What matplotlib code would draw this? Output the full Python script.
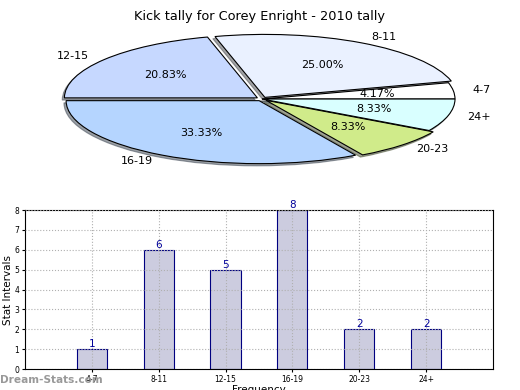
import matplotlib
matplotlib.use("Agg")
import matplotlib.pyplot as plt

title = "Kick tally for Corey Enright - 2010 tally"
categories = ["4-7", "8-11", "12-15", "16-19", "20-23", "24+"]
counts = [1, 6, 5, 8, 2, 2]
pie_colors = ["#ffffff", "#eaf1ff", "#c6d8ff", "#b5d5ff", "#d0eb8a", "#d9ffff"]
explode = [0, 0.03, 0.03, 0.03, 0.03, 0]
yticks = [0, 1, 2, 3, 4, 5, 6, 7, 8]

fig = plt.figure(figsize=(5.2, 3.9), dpi=100)

# Pie (squashed ellipse)
axp = fig.add_axes([0.1327, 0.5846, 0.7423, 0.323])
axp.pie(counts, labels=categories, colors=pie_colors, explode=explode,
        autopct="%1.2f%%", shadow={"ox": -0.008, "oy": -0.025}, startangle=0,
        counterclock=True,
        wedgeprops=dict(edgecolor="black", linewidth=0.8),
        textprops=dict(fontsize=8))
axp.set_aspect("auto")
axp.set_xlim(-1, 1)
axp.set_ylim(-1, 1)
axp.axis("off")
fig.text(0.5, 0.975, title, ha="center", va="top", fontsize=9.3)

# Bars
axb = fig.add_axes([0.048, 0.0538, 0.900, 0.4077])
x = list(range(len(categories)))
axb.bar(x, counts, width=0.45, color="#ccccdf", edgecolor="#000080", linewidth=0.8, zorder=1)
for xi, c in zip(x, counts):
    axb.text(xi, c, str(c), ha="center", va="bottom", fontsize=7.5, color="#000099", zorder=4)
axb.set_xlim(-1, 6)
axb.set_ylim(0, 8)
axb.set_xticks(x)
axb.set_xticklabels(categories, fontsize=5.5)
axb.set_yticks(yticks)
axb.set_yticklabels([str(v) for v in yticks], fontsize=5.5)
axb.tick_params(length=2, pad=2)
axb.set_axisbelow(False)
axb.grid(True, linestyle=":", color="#b0b0b0", linewidth=0.8)
axb.set_ylabel("Stat Intervals", fontsize=7.5, va="center")
axb.yaxis.set_label_coords(-0.036, 0.5)
axb.set_xlabel("Frequency", fontsize=7.5, labelpad=1)
fig.text(0.0, 0.025, "Dream-Stats.com", ha="left", va="center", fontsize=7.6,
         color="#999999", fontweight="bold")

fig.savefig("out.png", dpi=100)
